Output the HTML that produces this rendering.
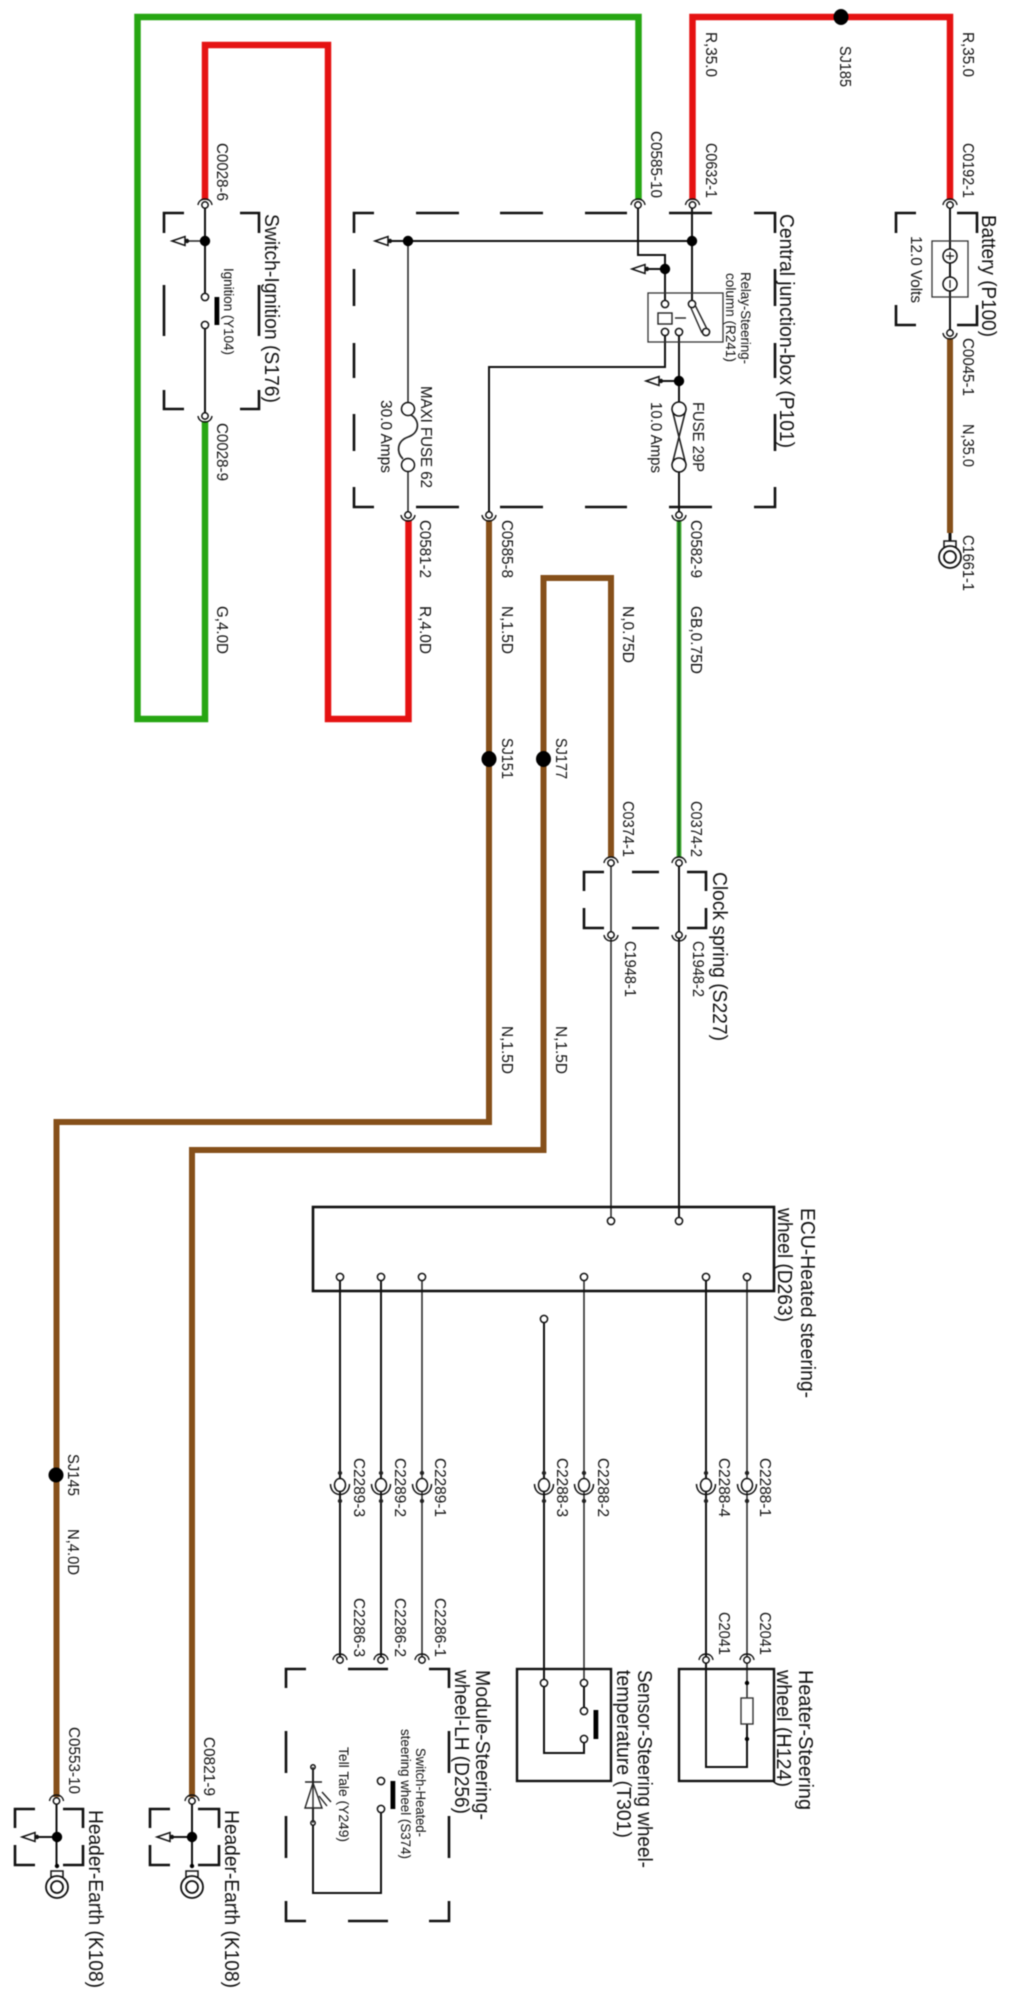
<!DOCTYPE html>
<html><head><meta charset="utf-8"><title>Wiring diagram</title>
<style>
html,body{margin:0;padding:0;background:#fff}
svg{display:block;filter:blur(0.4px)}
text{font-family:"Liberation Sans",sans-serif;fill:#111}
.s{font-size:16px}.m{font-size:14px}.l{font-size:20px}
.w{fill:none;stroke-linejoin:miter}
.k{fill:none;stroke:#111;stroke-width:2}
.t{fill:none;stroke:#222;stroke-width:1.5}
.d{fill:none;stroke:#111;stroke-width:2.6}
.r{fill:#fff;stroke:#111;stroke-width:1.5}
</style></head><body>
<svg width="1011" height="2000" viewBox="0 0 1011 2000" xmlns="http://www.w3.org/2000/svg">
<defs>
<g id="ct"><path d="M-7 0C-6-8 6-8 7 0" fill="none" stroke="#111" stroke-width="1.4"/><circle r="3.2" class="r"/></g>
<g id="cb"><path d="M-7 0C-6 8 6 8 7 0" fill="none" stroke="#111" stroke-width="1.4"/><circle r="3.2" class="r"/></g>
<circle id="ring" r="3.6" class="r"/>
<g id="arr"><path d="M0 0L13-4.5V4.5Z" fill="#fff" stroke="#111" stroke-width="1.5"/><circle cx="15" r="2.2" fill="#111"/></g>
<g id="mid"><circle cy="-12" r="2.2" fill="#222"/><circle cy="16" r="2.2" fill="#222"/><path d="M-9.500-1C-9.500 13 9.500 13 9.500-1" fill="none" stroke="#111" stroke-width="1.5"/><ellipse rx="5.500" ry="6.500" class="r"/></g>
<g id="gnd"><rect x="-6" y="-16" width="12" height="6" fill="#fff" stroke="#111" stroke-width="1.5"/><circle r="11" fill="#fff" stroke="#111" stroke-width="1.8"/><circle r="6" fill="#fff" stroke="#111" stroke-width="1.8"/></g>
</defs>

<!-- heavy wires -->
<g class="w" stroke-width="6.5">
<path stroke="#26a612" d="M638.5 200V17H137.5V719H205V421"/>
<path stroke="#e51212" d="M205 200V45H328V719H408.500V520"/>
<path stroke="#e51212" d="M692.500 200V17H950V200"/>
<path stroke="#86501a" stroke-width="6" d="M950 338V533"/>
<path stroke="#86501a" stroke-width="6" d="M489 520V1122H56.500V1797"/>
<path stroke="#86501a" stroke-width="6" d="M611 857V578H543.500V1150H192V1797"/>
<path stroke="#5dbf4a" stroke-width="5" d="M679 520V857"/>
<path stroke="#17701a" stroke-width="2.6" d="M679 520V857"/>
</g>

<!-- black wires -->
<g class="k">
<path d="M205 205V297M205 325V416"/>
<path d="M408 241H388M692 241H408"/>
<path d="M692 205V304"/>
<path d="M638 205V255H665V304"/>
<path d="M665 269H647"/>
<path d="M665 332V367H489V515"/>
<path d="M679 332V409M679 465V515"/>
<path d="M679 381H660"/>
<path d="M950 205V333"/>
<path d="M679 863V1221"/>
<path d="M340 1277V1660M381 1277V1660"/>
<path d="M544 1319V1683V1753H584V1739M584 1683V1711"/>
<path d="M706 1277V1767H747V1739M747 1724V1739"/>
<path d="M381 1809V1893H313V1767"/>
<path d="M56.500 1800V1866M37 1837H56M192 1800V1866M172 1837H192"/>
</g>
<g class="t">
<path d="M408 241V409M408 465V515"/>
<path d="M611 863V1221"/>
<path d="M422 1277V1660M584 1277V1683"/>
<path d="M747 1277V1698"/>
<path d="M205 241H187"/>
</g>

<!-- dashed boxes -->
<g class="d">
<path d="M164 233V213H184M240 213H259V233M164 285V336M259 285V336M164 390V409H184M240 409H259V390"/>
<path d="M354 233V213H374M416 213H459M500 213H543M585 213H627M669 213H712M754 213H775V233M354 269V306M775 269V306M354 343V378M775 343V378M354 414V451M775 414V451M354 487V507H374M416 507H459M500 507H543M585 507H627M669 507H712M754 507H775V487"/>
<path d="M896 233V213H916M957 213H977V233M896 305V325H916M957 325H977V305"/>
<path d="M584 891V872H604M632 872H659M687 872H706V891M584 908V928H604M632 928H659M687 928H706V908"/>
<path d="M286 1688V1669H306M348 1669H388M429 1669H449V1688M286 1731V1773M449 1731V1773M286 1816V1858M449 1816V1858M286 1901V1921H306M348 1921H388M429 1921H449V1901"/>
<path d="M15 1828V1809H35M63 1809H83V1828M15 1845V1865H35M63 1865H83V1845"/>
<path d="M150 1828V1809H170M198 1809H219V1828M150 1845V1865H170M198 1865H219V1845"/>
</g>

<!-- solid boxes -->
<rect x="313" y="1207" width="461" height="84" fill="none" stroke="#111" stroke-width="2.6"/>
<rect x="517" y="1669" width="94" height="112" fill="none" stroke="#111" stroke-width="2.4"/>
<rect x="679" y="1669" width="95" height="112" fill="none" stroke="#111" stroke-width="2.4"/>
<rect x="648" y="293" width="75" height="49" fill="none" stroke="#333" stroke-width="1.3"/>
<rect x="932" y="241" width="36" height="56" fill="none" stroke="#333" stroke-width="1.3"/>

<!-- junctions -->
<g fill="#000">
<ellipse cx="841" cy="17" rx="7.500" ry="8"/>
<circle cx="205" cy="241" r="5.200"/><circle cx="408" cy="241" r="5.200"/><circle cx="692" cy="241" r="5.200"/><circle cx="665" cy="269" r="5.200"/><circle cx="679" cy="381" r="5.200"/>
<ellipse cx="489" cy="759" rx="7.500" ry="8"/><ellipse cx="543.500" cy="759" rx="7.500" ry="8"/>
<circle cx="56" cy="1475" r="7.500"/>
<circle cx="57" cy="1837" r="5.200"/><circle cx="192" cy="1837" r="5.200"/>
<circle cx="57" cy="1866" r="2.200"/><circle cx="192" cy="1866" r="2.200"/>
<circle cx="747" cy="1683" r="2.200"/><circle cx="747" cy="1739" r="2.200"/>
<rect x="214.500" y="297" width="4.800" height="28"/>
<rect x="593.500" y="1710" width="4.800" height="29"/>
<rect x="390.500" y="1781" width="4.800" height="28"/>
</g>

<!-- arrows -->
<use href="#arr" x="172" y="241"/><use href="#arr" x="375" y="241"/><use href="#arr" x="632" y="269"/><use href="#arr" x="646" y="381"/><use href="#arr" x="22" y="1837"/><use href="#arr" x="157" y="1837"/>

<!-- connectors -->
<use href="#ct" x="205" y="205"/><use href="#cb" x="205" y="416"/>
<use href="#ct" x="638" y="205"/><use href="#ct" x="692.500" y="205"/><use href="#ct" x="950" y="205"/><use href="#cb" x="950" y="333"/>
<use href="#cb" x="408" y="515"/><use href="#cb" x="489" y="515"/><use href="#cb" x="679" y="515"/>
<use href="#ct" x="611" y="863"/><use href="#ct" x="679" y="863"/><use href="#cb" x="611" y="935"/><use href="#cb" x="679" y="935"/>
<use href="#ct" x="340" y="1660"/><use href="#ct" x="381" y="1660"/><use href="#ct" x="422" y="1660"/><use href="#ct" x="706" y="1660"/><use href="#ct" x="747" y="1660"/>
<use href="#ct" x="56.500" y="1801"/><use href="#ct" x="192" y="1801"/>
<use href="#mid" x="340" y="1485"/><use href="#mid" x="381" y="1485"/><use href="#mid" x="422" y="1485"/><use href="#mid" x="544" y="1485"/><use href="#mid" x="584" y="1485"/><use href="#mid" x="706" y="1485"/><use href="#mid" x="747" y="1485"/>

<!-- rings -->
<use href="#ring" x="205" y="297"/><use href="#ring" x="205" y="325"/>
<use href="#ring" x="665" y="304"/><use href="#ring" x="665" y="332"/><use href="#ring" x="692" y="304"/><use href="#ring" x="706" y="332"/><use href="#ring" x="679" y="332"/>
<use href="#ring" x="611" y="1221"/><use href="#ring" x="679" y="1221"/>
<use href="#ring" x="340" y="1277"/><use href="#ring" x="381" y="1277"/><use href="#ring" x="422" y="1277"/><use href="#ring" x="584" y="1277"/><use href="#ring" x="706" y="1277"/><use href="#ring" x="747" y="1277"/>
<use href="#ring" x="544" y="1319"/>
<use href="#ring" x="544" y="1683"/><use href="#ring" x="584" y="1683"/><use href="#ring" x="584" y="1711"/><use href="#ring" x="584" y="1739"/>
<use href="#ring" x="381" y="1781"/><use href="#ring" x="381" y="1809"/>
<circle cx="313" cy="1767" r="2.200" class="r"/><circle cx="313" cy="1823" r="2.200" class="r"/>

<!-- relay details -->
<rect x="658" y="313" width="14" height="11" fill="#fff" stroke="#222" stroke-width="1.4"/>
<path d="M675 318H686" stroke="#222" stroke-width="1.4"/>
<path d="M691 308L702 333M695 305L707 329" stroke="#222" stroke-width="1.4" fill="none"/>

<!-- fuses -->
<circle cx="408" cy="409" r="6.500" class="r"/><circle cx="408" cy="465" r="6.500" class="r"/>
<path d="M411 415C420 420 420 433 408 437C397 441 396 452 403 459" fill="none" stroke="#222" stroke-width="1.7"/>
<path d="M672 409L686 465M686 409L672 465" fill="none" stroke="#222" stroke-width="1.6"/>
<circle cx="679" cy="409" r="7" class="r"/><circle cx="679" cy="465" r="7" class="r"/>

<!-- battery -->
<circle cx="950" cy="256" r="7" class="r"/><circle cx="950" cy="284" r="7" class="r"/>
<path d="M946 256H954M950 252V260M950 280V288" stroke="#111" stroke-width="1.2"/>

<!-- grounds -->
<use href="#gnd" x="950" y="557"/><use href="#gnd" x="57" y="1887"/><use href="#gnd" x="192" y="1887"/>
<path d="M950 533V541" stroke="#111" stroke-width="3"/>

<!-- resistor -->
<rect x="741" y="1698" width="12" height="26" fill="#fff" stroke="#333" stroke-width="1.4"/>

<!-- LED -->
<path d="M313 1783L305 1808H322Z" fill="#fff" stroke="#222" stroke-width="1.4"/>
<path d="M305 1782H322M313 1767V1823" stroke="#222" stroke-width="1.4" fill="none"/>
<path d="M322 1792L331 1802M319 1796L327 1806" stroke="#222" stroke-width="1.4" fill="none"/>

<!-- labels -->
<g class="s">
<text transform="translate(963 32) rotate(90)" textLength="45" lengthAdjust="spacingAndGlyphs">R,35.0</text>
<text transform="translate(840 46) rotate(90)" textLength="41" lengthAdjust="spacingAndGlyphs">SJ185</text>
<text transform="translate(706 32) rotate(90)" textLength="45" lengthAdjust="spacingAndGlyphs">R,35.0</text>
<text transform="translate(963 143) rotate(90)" textLength="55" lengthAdjust="spacingAndGlyphs">C0192-1</text>
<text transform="translate(706 143) rotate(90)" textLength="55" lengthAdjust="spacingAndGlyphs">C0632-1</text>
<text transform="translate(651 131) rotate(90)" textLength="67" lengthAdjust="spacingAndGlyphs">C0585-10</text>
<text transform="translate(217 143) rotate(90)" textLength="58" lengthAdjust="spacingAndGlyphs">C0028-6</text>
<text transform="translate(217 423) rotate(90)" textLength="58" lengthAdjust="spacingAndGlyphs">C0028-9</text>
<text transform="translate(911 236) rotate(90)" textLength="67" lengthAdjust="spacingAndGlyphs">12.0 Volts</text>
<text transform="translate(963 338) rotate(90)" textLength="58" lengthAdjust="spacingAndGlyphs">C0045-1</text>
<text transform="translate(963 424) rotate(90)" textLength="43" lengthAdjust="spacingAndGlyphs">N,35.0</text>
<text transform="translate(963 535) rotate(90)" textLength="56" lengthAdjust="spacingAndGlyphs">C1661-1</text>
<text transform="translate(693 402) rotate(90)" textLength="70" lengthAdjust="spacingAndGlyphs">FUSE 29P</text>
<text transform="translate(651 402) rotate(90)" textLength="71" lengthAdjust="spacingAndGlyphs">10.0 Amps</text>
<text transform="translate(421 386) rotate(90)" textLength="102" lengthAdjust="spacingAndGlyphs">MAXI FUSE 62</text>
<text transform="translate(381 400) rotate(90)" textLength="73" lengthAdjust="spacingAndGlyphs">30.0 Amps</text>
<text transform="translate(420 520) rotate(90)" textLength="58" lengthAdjust="spacingAndGlyphs">C0581-2</text>
<text transform="translate(502 520) rotate(90)" textLength="58" lengthAdjust="spacingAndGlyphs">C0585-8</text>
<text transform="translate(691 520) rotate(90)" textLength="58" lengthAdjust="spacingAndGlyphs">C0582-9</text>
<text transform="translate(217 606) rotate(90)" textLength="48" lengthAdjust="spacingAndGlyphs">G,4.0D</text>
<text transform="translate(420 606) rotate(90)" textLength="48" lengthAdjust="spacingAndGlyphs">R,4.0D</text>
<text transform="translate(502 606) rotate(90)" textLength="48" lengthAdjust="spacingAndGlyphs">N,1.5D</text>
<text transform="translate(623 606) rotate(90)" textLength="57" lengthAdjust="spacingAndGlyphs">N,0.75D</text>
<text transform="translate(691 606) rotate(90)" textLength="68" lengthAdjust="spacingAndGlyphs">GB,0.75D</text>
<text transform="translate(502 738) rotate(90)" textLength="41" lengthAdjust="spacingAndGlyphs">SJ151</text>
<text transform="translate(556 738) rotate(90)" textLength="41" lengthAdjust="spacingAndGlyphs">SJ177</text>
<text transform="translate(623 801) rotate(90)" textLength="56" lengthAdjust="spacingAndGlyphs">C0374-1</text>
<text transform="translate(691 801) rotate(90)" textLength="56" lengthAdjust="spacingAndGlyphs">C0374-2</text>
<text transform="translate(625 941) rotate(90)" textLength="56" lengthAdjust="spacingAndGlyphs">C1948-1</text>
<text transform="translate(693 941) rotate(90)" textLength="56" lengthAdjust="spacingAndGlyphs">C1948-2</text>
<text transform="translate(502 1026) rotate(90)" textLength="48" lengthAdjust="spacingAndGlyphs">N,1.5D</text>
<text transform="translate(556 1026) rotate(90)" textLength="48" lengthAdjust="spacingAndGlyphs">N,1.5D</text>
<text transform="translate(354 1458) rotate(90)" textLength="59" lengthAdjust="spacingAndGlyphs">C2289-3</text>
<text transform="translate(395 1458) rotate(90)" textLength="59" lengthAdjust="spacingAndGlyphs">C2289-2</text>
<text transform="translate(435 1458) rotate(90)" textLength="59" lengthAdjust="spacingAndGlyphs">C2289-1</text>
<text transform="translate(557 1458) rotate(90)" textLength="59" lengthAdjust="spacingAndGlyphs">C2288-3</text>
<text transform="translate(598 1458) rotate(90)" textLength="59" lengthAdjust="spacingAndGlyphs">C2288-2</text>
<text transform="translate(719 1458) rotate(90)" textLength="59" lengthAdjust="spacingAndGlyphs">C2288-4</text>
<text transform="translate(760 1458) rotate(90)" textLength="59" lengthAdjust="spacingAndGlyphs">C2288-1</text>
<text transform="translate(354 1598) rotate(90)" textLength="59" lengthAdjust="spacingAndGlyphs">C2286-3</text>
<text transform="translate(395 1598) rotate(90)" textLength="59" lengthAdjust="spacingAndGlyphs">C2286-2</text>
<text transform="translate(435 1598) rotate(90)" textLength="59" lengthAdjust="spacingAndGlyphs">C2286-1</text>
<text transform="translate(719 1612) rotate(90)" textLength="43" lengthAdjust="spacingAndGlyphs">C2041</text>
<text transform="translate(760 1612) rotate(90)" textLength="43" lengthAdjust="spacingAndGlyphs">C2041</text>
<text transform="translate(68 1454) rotate(90)" textLength="42" lengthAdjust="spacingAndGlyphs">SJ145</text>
<text transform="translate(68 1529) rotate(90)" textLength="46" lengthAdjust="spacingAndGlyphs">N,4.0D</text>
<text transform="translate(69 1727) rotate(90)" textLength="67" lengthAdjust="spacingAndGlyphs">C0553-10</text>
<text transform="translate(204 1737) rotate(90)" textLength="59" lengthAdjust="spacingAndGlyphs">C0821-9</text>
</g>
<g class="m">
<text transform="translate(224 268) rotate(90)" textLength="87" lengthAdjust="spacingAndGlyphs">Ignition (Y104)</text>
<text transform="translate(741 272) rotate(90)" textLength="92" lengthAdjust="spacingAndGlyphs">Relay-Steering-</text>
<text transform="translate(726 273) rotate(90)" textLength="89" lengthAdjust="spacingAndGlyphs">column (R241)</text>
<text transform="translate(416 1748) rotate(90)" textLength="89" lengthAdjust="spacingAndGlyphs">Switch-Heated-</text>
<text transform="translate(401 1729) rotate(90)" textLength="130" lengthAdjust="spacingAndGlyphs">steering wheel (S374)</text>
<text transform="translate(339 1747) rotate(90)" textLength="95" lengthAdjust="spacingAndGlyphs">Tell Tale (Y249)</text>
</g>
<g class="l">
<text transform="translate(265 214) rotate(90)" textLength="189" lengthAdjust="spacingAndGlyphs">Switch-Ignition (S176)</text>
<text transform="translate(780 214) rotate(90)" textLength="234" lengthAdjust="spacingAndGlyphs">Central junction-box (P101)</text>
<text transform="translate(982 215) rotate(90)" textLength="122" lengthAdjust="spacingAndGlyphs">Battery (P100)</text>
<text transform="translate(713 872) rotate(90)" textLength="169" lengthAdjust="spacingAndGlyphs">Clock spring (S227)</text>
<text transform="translate(801 1208) rotate(90)" textLength="190" lengthAdjust="spacingAndGlyphs">ECU-Heated steering-</text>
<text transform="translate(778 1208) rotate(90)" textLength="114" lengthAdjust="spacingAndGlyphs">wheel (D263)</text>
<text transform="translate(476 1670) rotate(90)" textLength="150" lengthAdjust="spacingAndGlyphs">Module-Steering-</text>
<text transform="translate(455 1670) rotate(90)" textLength="144" lengthAdjust="spacingAndGlyphs">wheel-LH (D256)</text>
<text transform="translate(638 1670) rotate(90)" textLength="198" lengthAdjust="spacingAndGlyphs">Sensor-Steering wheel-</text>
<text transform="translate(617 1670) rotate(90)" textLength="168" lengthAdjust="spacingAndGlyphs">temperature (T301)</text>
<text transform="translate(799 1670) rotate(90)" textLength="140" lengthAdjust="spacingAndGlyphs">Heater-Steering</text>
<text transform="translate(777 1670) rotate(90)" textLength="117" lengthAdjust="spacingAndGlyphs">wheel (H124)</text>
<text transform="translate(89 1810) rotate(90)" textLength="178" lengthAdjust="spacingAndGlyphs">Header-Earth (K108)</text>
<text transform="translate(225 1810) rotate(90)" textLength="178" lengthAdjust="spacingAndGlyphs">Header-Earth (K108)</text>
</g>
</svg>
</body></html>
